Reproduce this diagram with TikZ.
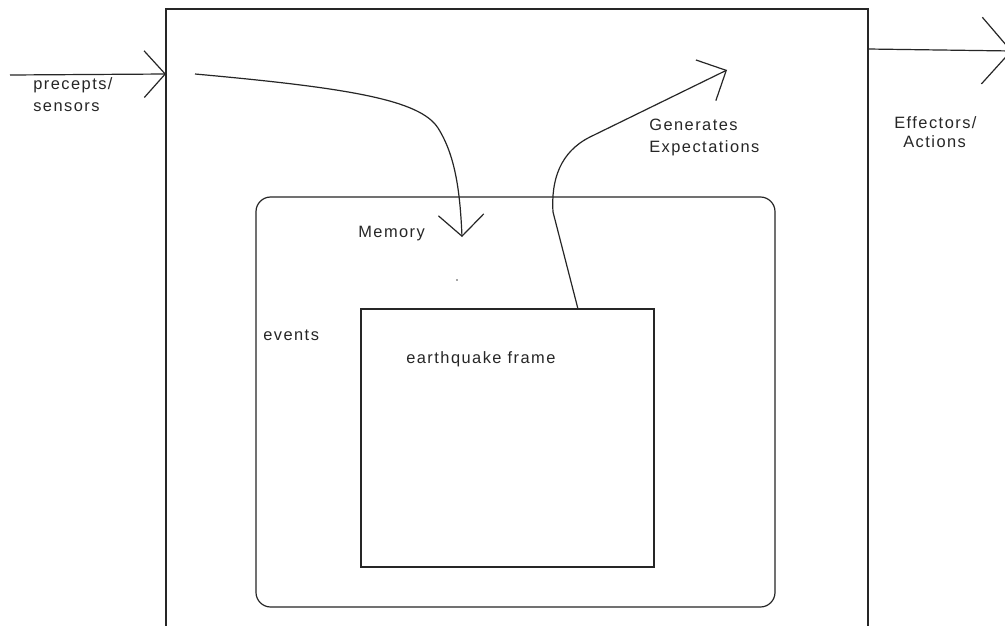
\documentclass[tikz,border=0pt]{standalone}
\usepackage{fontspec}
\newfontfamily\lbl[LetterSpace=9]{Liberation Sans}
\usetikzlibrary{arrows.meta,calc}
\begin{document}
\begin{tikzpicture}[x=0.75pt,y=-0.75pt,
  line/.style={line width=0.9pt,draw=black!85},
  boxnode/.style={line, inner sep=0pt, fill=none},
  lab/.style={font=\lbl\fontsize{12.3}{16.5}\selectfont, anchor=base west, inner sep=0pt, align=left, text=black!85},
]
\useasboundingbox (0,0) rectangle (1005,625);
\clip (0,0) rectangle (1005,625);
\fill[white] (0,0) rectangle (1005,625);
% outer agent box (open at the bottom edge)
\coordinate (agBL) at (166,640);
\coordinate (agTL) at (166,9);
\coordinate (agTR) at (868,9);
\coordinate (agBR) at (868,640);
\draw[line] (agBL) -- (agTL) -- (agTR) -- (agBR);
% memory and frame boxes
\node[boxnode, rounded corners=11pt, minimum width=389.25pt, minimum height=307.5pt] (memory) at (515.5,402) {};
\node[boxnode, minimum width=219.75pt, minimum height=193.5pt] (frame) at (507.5,438) {};
% in / out arrows
\coordinate (inS) at (10,75);
\coordinate (inE) at (166,74);
\draw[line, -{Straight Barb[length=15.75pt,width=35pt]}] (inS) -- (inE);
\coordinate (outS) at (868,49);
\coordinate (outE) at (1012,51);
\draw[line, -{Straight Barb[length=22pt,width=50pt]}] (outS) -- (outE);
% percept arrow into memory
\coordinate (pS) at (195,74);
\coordinate (pE) at (462,237);
\draw[line, -{Straight Barb[length=16pt,width=34pt]}] (pS) .. controls (350,88) and (420,100) .. (438,128) .. controls (455,155) and (460,190) .. (pE);
% expectations arrow out of the frame
\coordinate (gS) at (578,309);
\coordinate (gE) at (727,70);
\draw[line, -{Straight Barb[length=17pt,width=34pt]}] (gS) -- (553,212) .. controls (551,180) and (560,152) .. (590,137) -- (gE);
% stray dot
\fill[black!70] (457,280) circle (0.6pt);
% labels
\node[lab] (percepts) at (33,111) {precepts/\\sensors};
\node[lab] (gen) at (649,152) {Generates\\Expectations};
\node[lab] (eff) at (894,128) {Effectors/};
\node[lab] (act) at (903,147) {Actions};
\node[lab] (memlab) at (358,237) {Memory};
\node[lab] (events) at (263,340) {events};
\node[lab] (eq) at (406,363) {earthquake frame};
\end{tikzpicture}
\end{document}
